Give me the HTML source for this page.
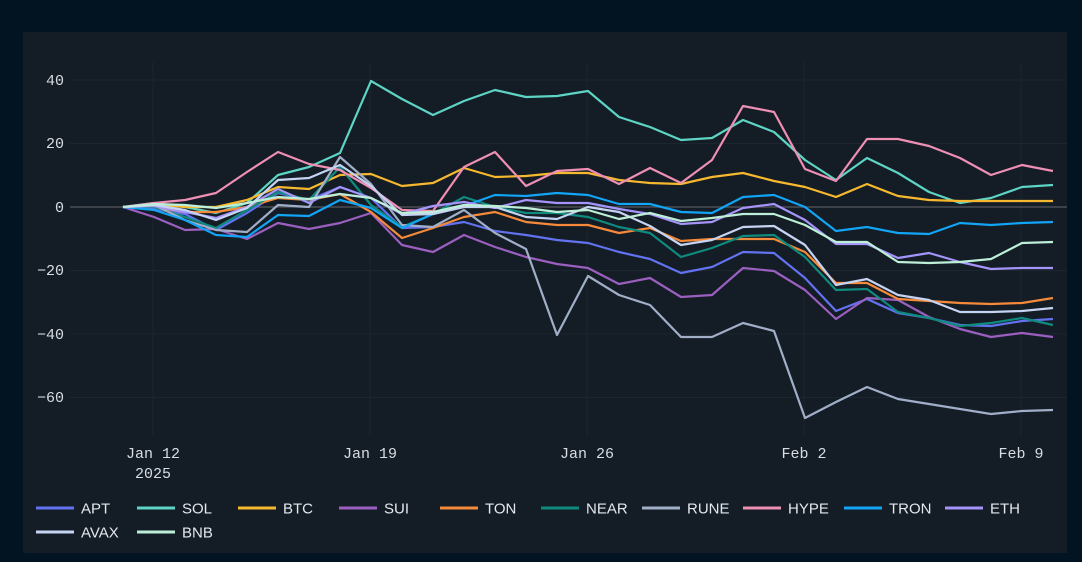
<!DOCTYPE html>
<html><head><meta charset="utf-8"><style>
html,body{margin:0;padding:0;background:#001320;}
svg{display:block}
</style></head><body>
<svg width="1082" height="562" xmlns="http://www.w3.org/2000/svg">
<rect width="1082" height="562" fill="#021321"/>
<rect x="23" y="32" width="1044" height="521" fill="#141c25"/>
<g stroke="#1c2530" stroke-width="1">
<line x1="70" y1="80" x2="1067" y2="80"/><line x1="70" y1="143.5" x2="1067" y2="143.5"/>
<line x1="70" y1="270.5" x2="1067" y2="270.5"/><line x1="70" y1="334" x2="1067" y2="334"/><line x1="70" y1="397.5" x2="1067" y2="397.5"/>
<line x1="153" y1="62" x2="153" y2="436"/><line x1="370" y1="62" x2="370" y2="436"/><line x1="587" y1="62" x2="587" y2="436"/><line x1="804" y1="62" x2="804" y2="436"/><line x1="1021" y1="62" x2="1021" y2="436"/>
</g>
<line x1="70" y1="207" x2="1067" y2="207" stroke="#4a4f55" stroke-width="1.5"/>
<g font-family="Liberation Mono, monospace" font-size="15" fill="#d8dde3" text-anchor="end">
<text x="64" y="85">40</text><text x="64" y="148">20</text><text x="64" y="212">0</text>
<text x="64" y="275">−20</text><text x="64" y="339">−40</text><text x="64" y="402">−60</text>
</g>
<g font-family="Liberation Mono, monospace" font-size="15" fill="#d8dde3" text-anchor="middle">
<text x="153" y="458">Jan 12</text><text x="153" y="478">2025</text>
<text x="370" y="458">Jan 19</text><text x="587" y="458">Jan 26</text><text x="804" y="458">Feb 2</text><text x="1021" y="458">Feb 9</text>
</g>
<g fill="none" stroke-width="2.2" stroke-linejoin="round" id="lines"></g>
<g font-family="Liberation Sans, sans-serif" font-size="15" fill="#e4e8ee" id="legend"></g>
<script>
var S=[
["APT","#6272f0",[207,209,214,230,213,193,200,187,198,228,227,222,231,235,240,243,252,259,273,267,252,253,278,311,299,313,318,325,326,321,319]],
["SOL","#5dd4c4",[207,203,207,213,203,175,167,153,81,99,115,101,90,97,96,91,117,127,140,138,120,132,160,180,158,173,192,203,198,187,185]],
["BTC","#f5b82e",[207,204,207,207,200,187,189,175,174,186,183,168,177,176,173,173,180,183,184,177,173,181,187,197,184,196,200,201,201,201,201]],
["SUI","#9b5fc0",[207,217,230,229,239,223,229,223,213,245,252,235,247,257,264,268,284,278,297,295,268,271,290,319,298,300,317,329,337,333,337]],
["TON","#f58a3a",[207,207,212,212,207,198,200,194,212,238,228,217,212,222,225,225,233,228,241,239,239,239,252,283,283,299,301,303,304,303,298]],
["NEAR","#0f8a7e",[207,207,217,228,210,192,200,167,205,227,214,197,207,213,213,217,227,233,257,248,236,235,257,290,289,312,318,326,323,318,325]],
["RUNE","#a0aec8",[207,205,220,230,232,205,207,157,184,225,227,210,233,249,335,276,295,305,337,337,323,331,418,402,387,399,404,409,414,411,410]],
["HYPE","#ee8fb4",[207,203,200,193,172,152,164,170,188,210,211,167,152,186,171,169,184,168,183,160,106,112,169,181,139,139,146,158,175,165,171]],
["TRON","#12a4f5",[207,210,220,235,237,215,216,200,208,228,214,206,195,196,193,195,204,204,212,213,197,195,207,231,227,233,234,223,225,223,222]],
["ETH","#a594f9",[207,206,212,218,207,189,203,187,198,214,206,202,208,200,203,203,209,214,224,222,208,204,220,244,244,258,253,262,269,268,268]],
["AVAX","#c6d4f4",[207,205,210,220,208,180,178,165,186,215,214,207,207,217,219,207,212,226,245,240,227,226,245,285,279,295,300,312,312,311,308]],
["BNB","#bdeed8",[207,204,205,208,203,197,199,194,198,213,212,205,206,208,212,210,219,213,221,218,214,214,225,242,242,262,263,262,259,243,242]]];
var ns="http://www.w3.org/2000/svg",g=document.getElementById("lines"),L=document.getElementById("legend");
S.forEach(function(s,k){
 var p=document.createElementNS(ns,"polyline");
 p.setAttribute("points",s[2].map(function(y,i){return (123+31*i)+","+y}).join(" "));
 p.setAttribute("stroke",s[1]);g.appendChild(p);
 var r=k<10?0:1,c=k<10?k:k-10,x=36+101*c,y=508+24*r;
 var l=document.createElementNS(ns,"line");
 l.setAttribute("x1",x);l.setAttribute("x2",x+38);l.setAttribute("y1",y);l.setAttribute("y2",y);
 l.setAttribute("stroke",s[1]);l.setAttribute("stroke-width","3");L.appendChild(l);
 var t=document.createElementNS(ns,"text");t.setAttribute("x",x+45);t.setAttribute("y",y+5.5);t.textContent=s[0];L.appendChild(t);
});
</script>
</svg>
</body></html>
